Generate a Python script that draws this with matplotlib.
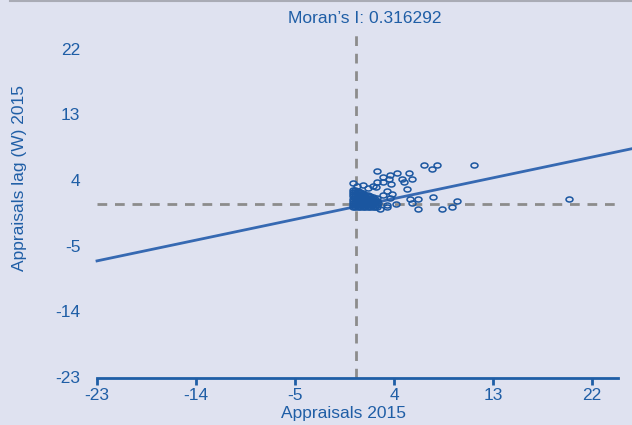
import numpy as np
import matplotlib
matplotlib.use("Agg")
import matplotlib.pyplot as plt
from matplotlib.path import Path
from matplotlib.lines import Line2D

plt.rcParams['font.family'] = ['Liberation Sans', 'DejaVu Sans']

# Standardised appraisal values (x) and their spatial lag (y)
x_scattered = [2.43, 0.25, 0.61, 1.21, 1.66, 2.12, 2.43, 3.03, 3.57, 3.75,
               4.25, 4.73, 4.91, 5.39, 5.64, 5.21, 2.34, 3.34, 3.03, 3.82,
               4.18, 3.39, 2.73, 5.45, 5.61, 6.18, 6.21, 6.73, 7.43, 7.88,
               7.57, 8.34, 9.27, 9.70, 11.30, 19.94, 2.97, 3.64, 3.64, 3.34]
y_scattered = [5.19, 3.63, 3.18, 3.36, 2.90, 3.18, 3.73, 3.73, 4.18, 3.45,
               4.92, 4.18, 3.73, 4.92, 4.18, 2.81, 3.00, 2.53, 1.90, 2.08,
               0.71, 0.26, 0.03, 1.44, 0.81, 1.44, -0.02, 6.10, 5.47, 6.10,
               1.72, -0.02, 0.34, 1.16, 6.10, 1.35, 4.37, 4.64, 1.57, 0.57]

# Dense group of observations close to the mean
x_dense = [0.25, 0.47, 0.70, 0.92, 1.15, 1.37, 1.60, 1.82, 2.05, 2.27, 2.50,
           0.24, 0.48, 0.69, 0.93, 1.14, 1.38, 1.59, 1.83, 2.04, 2.28, 2.49,
           0.26, 0.46, 0.71, 0.91, 1.16, 1.36, 1.61, 1.81, 2.06, 2.26, 2.51,
           0.25, 0.47, 0.70, 0.92, 1.15, 1.37, 1.60, 1.82, 2.05, 2.27, 2.50,
           0.24, 0.48, 0.69, 0.93, 1.14, 1.38, 1.59, 1.83, 2.04, 2.28, 2.45,
           0.26, 0.46, 0.71, 0.91, 1.16, 1.36, 1.61, 1.81, 2.06,
           0.25, 0.47, 0.70, 0.92, 1.15, 1.37, 1.60,
           0.24, 0.48, 0.69, 0.93, 1.14,
           0.26, 0.46, 0.71]
y_dense = [0.25, 0.26, 0.24, 0.25, 0.26, 0.24, 0.25, 0.26, 0.24, 0.25, 0.26,
           0.55, 0.54, 0.56, 0.55, 0.54, 0.56, 0.55, 0.54, 0.56, 0.55, 0.54,
           0.85, 0.86, 0.84, 0.85, 0.86, 0.84, 0.85, 0.86, 0.84, 0.85, 0.86,
           1.15, 1.14, 1.16, 1.15, 1.14, 1.16, 1.15, 1.14, 1.16, 1.15, 1.14,
           1.45, 1.46, 1.44, 1.45, 1.46, 1.44, 1.45, 1.46, 1.44, 1.45, 1.50,
           1.75, 1.74, 1.76, 1.75, 1.74, 1.76, 1.75, 1.74, 1.72,
           2.05, 2.06, 2.04, 2.03, 2.02, 2.00, 1.98,
           2.35, 2.34, 2.32, 2.30, 2.26,
           2.60, 2.58, 2.55]

morans_i = 0.316292
intercept = 0.18
x_mean = 0.55
y_mean = 0.71

ticks = [-23, -14, -5, 4, 13, 22]

bg = '#dfe2f0'
blue_text = '#1f5ea6'
point_col = '#1a56a0'
line_col = '#3669b2'
dash_col = '#8c8c8c'

fig = plt.figure(figsize=(6.32, 4.25), dpi=100, facecolor=bg)
ax = fig.add_axes([0.1535, 0.1106, 0.8465, 0.8188], facecolor=bg)

xlim = (-23, 25.64)
ylim = (-23.15, 24.56)
ax.set_xlim(*xlim)
ax.set_ylim(*ylim)

# Mean reference lines
ax.axvline(x_mean, color=dash_col, lw=2, ls=(0, (3.5, 2.8)), zorder=1)
ax.plot([xlim[0], 24.4], [y_mean, y_mean], color=dash_col, lw=2,
        ls=(0, (3.5, 2.8)), zorder=1)

# Regression line (slope equals Moran's I)
xs = np.array(xlim)
ax.plot(xs, intercept + morans_i * xs, color=line_col, lw=2, zorder=3,
        clip_on=False)

# Slightly flattened open circle marker
ell = Path(Path.unit_circle().vertices * np.array([1.0, 0.72]),
           Path.unit_circle().codes)
ax.plot(x_dense, y_dense, ls='none', marker=ell, ms=5.0, mfc='none',
        mec=point_col, mew=1.1, zorder=4)
ax.plot(x_scattered, y_scattered, ls='none', marker=ell, ms=5.0, mfc='none',
        mec=point_col, mew=1.1, zorder=4)

ax.text(0.5, 1.0 + 12 / 348, "Moran\u2019s I: 0.316292", transform=ax.transAxes,
        ha='center', va='center', color=blue_text, fontsize=12.5)

for s in ['top', 'right', 'left']:
    ax.spines[s].set_visible(False)
ax.spines['bottom'].set_color(blue_text)
ax.spines['bottom'].set_linewidth(2)
ax.spines['bottom'].set_bounds(-23, 24.4)

ax.set_xticks(ticks)
ax.set_yticks(ticks)
ax.set_xticklabels([str(t) for t in ticks])
ax.set_yticklabels([str(t) for t in ticks])
ax.tick_params(axis='x', direction='out', length=5, width=2, color=blue_text,
               labelcolor=blue_text, labelsize=12.5, pad=2)
ax.tick_params(axis='y', length=0, labelcolor=blue_text, labelsize=12.5,
               pad=12)

ax.set_xlabel("Appraisals 2015", color=blue_text, fontsize=12.5)
ax.xaxis.set_label_coords(0.46, -0.08)
ax.set_ylabel("Appraisals lag (W) 2015", color=blue_text, fontsize=12.5)
ax.yaxis.set_label_coords(-0.13, 0.575)

# Thin rule along the top edge of the panel
fig.add_artist(Line2D([10 / 632, 1.0], [1 - 1 / 425, 1 - 1 / 425],
                      transform=fig.transFigure, color='#a9abb5', lw=1.5))

fig.savefig("out.png", dpi=100, facecolor=bg)
